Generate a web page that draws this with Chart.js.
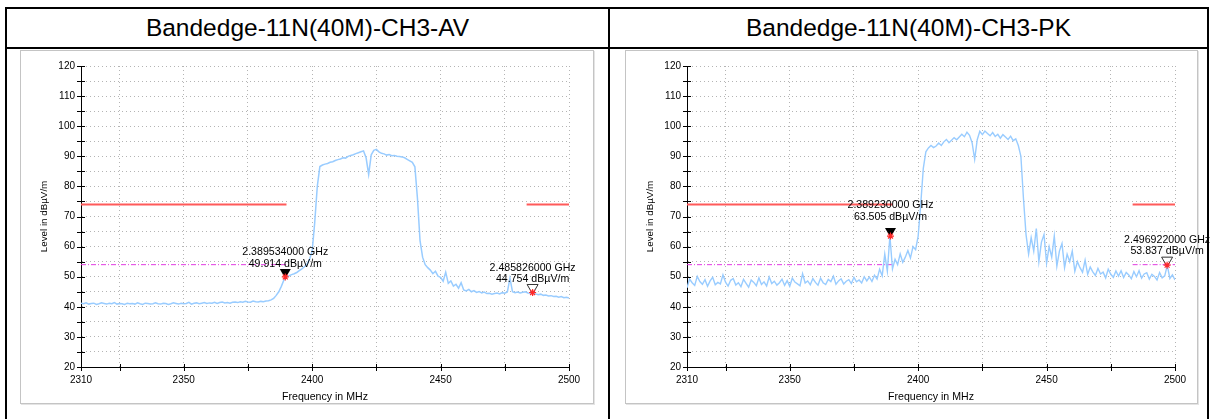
<!DOCTYPE html>
<html><head><meta charset="utf-8">
<script src="https://cdn.jsdelivr.net/npm/chart.js@4.4.1/dist/chart.umd.min.js"></script>
<style>
html,body{margin:0;padding:0;background:#fff;}
body{width:1214px;height:419px;position:relative;overflow:hidden;font-family:"Liberation Sans",Arial,sans-serif;}
.ln{position:absolute;background:#000;}
.title{position:absolute;top:9px;height:38px;line-height:38px;text-align:center;font-size:24.5px;color:#000;white-space:nowrap;}
.frame{position:absolute;top:50px;height:354px;border:1px solid #c4c4c4;box-sizing:border-box;box-shadow:1px 1px 0 #e4e4e4;}
canvas{position:absolute;}
</style></head><body>
<div class="ln" style="left:5px;top:7px;width:1204px;height:2px"></div>
<div class="ln" style="left:5px;top:47px;width:1204px;height:2px"></div>
<div class="ln" style="left:5px;top:7px;width:2px;height:412px"></div>
<div class="ln" style="left:608px;top:7px;width:2px;height:412px"></div>
<div class="ln" style="left:1207px;top:7px;width:2px;height:412px"></div>
<div class="title" id="t1" style="left:7px;width:601px"></div>
<div class="title" id="t2" style="left:610px;width:597px"></div>
<div class="frame" style="left:20px;width:574px"></div>
<div class="frame" style="left:625px;width:573px"></div>
<canvas id="c1" width="588" height="352" style="left:21px;top:51px;width:588px;height:352px"></canvas>
<canvas id="c2" width="588" height="352" style="left:627px;top:51px;width:588px;height:352px"></canvas>
<script>
// ---------- data ----------
const panelTitles = ['Bandedge-11N(40M)-CH3-AV', 'Bandedge-11N(40M)-CH3-PK'];
const freqStartMHz = 2310;
const freqStepMHz = 1;
const avLevels = [
41.2,41.0,41.3,40.9,41.1,41.2,40.8,41.0,41.3,41.1,
40.9,41.2,41.0,41.4,40.9,41.1,41.0,40.8,41.2,41.0,
41.1,40.9,41.3,41.0,40.8,41.2,41.1,40.9,41.0,41.3,
41.0,40.9,41.2,41.1,40.8,41.0,41.3,41.1,40.9,41.2,
41.0,41.1,41.5,40.9,41.2,41.3,41.0,41.2,41.4,41.1,
41.3,41.2,41.5,41.1,41.4,41.6,41.3,41.4,41.2,41.5,
41.6,41.4,41.7,41.5,41.8,41.6,41.5,41.9,41.7,41.6,
41.8,41.7,41.9,42.0,42.3,42.8,43.8,45.0,46.8,48.9,
49.9,50.3,50.7,51.0,51.4,52.0,52.6,53.3,54.2,55.8,
58.5,68.0,80.0,86.6,87.1,87.4,87.6,88.0,88.2,88.6,
88.9,89.1,89.5,89.4,90.0,90.3,90.5,90.9,91.2,91.5,
91.8,89.5,84.0,90.5,92.0,92.3,91.5,91.0,90.8,90.4,
90.6,90.2,90.3,90.0,89.9,89.8,89.5,89.0,88.5,88.0,
86.5,76.0,62.0,56.5,54.0,53.0,52.2,51.0,51.8,50.2,
49.8,48.5,51.5,47.8,48.6,46.9,47.5,46.2,48.0,45.6,
45.3,45.8,45.0,45.4,44.8,45.1,44.6,44.9,44.4,44.5,
44.2,44.4,44.6,44.3,44.7,44.5,44.9,49.5,45.0,44.7,
44.9,44.6,44.8,45.0,44.6,44.5,44.75,44.3,44.0,44.2,
43.8,43.9,43.6,43.7,43.4,43.5,43.2,43.4,43.0,43.2,
42.9];
const pkLevels = [
46.3,49.2,48.0,47.1,50.1,48.4,47.5,49.0,46.8,48.6,
49.8,47.3,48.1,47.6,50.6,48.2,46.9,48.8,49.4,47.2,
48.0,46.7,49.1,47.8,46.5,48.9,48.1,47.0,49.6,47.4,
48.3,46.9,49.9,47.7,48.5,47.2,48.0,49.2,47.1,48.7,
46.8,49.5,48.2,47.6,47.0,51.0,47.9,48.6,47.3,49.4,
48.1,47.2,49.5,48.0,47.4,49.1,48.4,50.2,47.5,48.6,
49.3,47.6,48.5,49.0,47.7,49.8,48.3,48.9,47.9,50.0,
48.6,49.9,48.4,50.5,49.2,52.5,50.3,57.5,51.8,63.5,
52.6,55.8,54.0,57.6,54.8,56.5,58.7,56.2,60.0,59.0,
63.5,74.0,86.0,91.5,92.8,93.6,92.9,93.4,94.4,93.6,
94.8,95.6,94.5,95.3,96.2,95.5,96.4,97.3,96.5,98.0,
97.0,94.5,89.0,95.5,98.3,97.2,98.4,97.6,96.8,97.9,
96.6,97.3,96.0,97.2,96.4,95.6,96.7,95.2,95.8,93.6,
90.0,76.0,64.0,57.5,63.0,58.5,66.0,55.0,61.5,64.0,
54.5,60.0,56.5,63.5,53.5,58.5,61.0,53.0,57.5,55.0,
58.5,51.8,55.0,53.0,51.5,55.5,50.8,53.2,51.6,50.4,
52.8,50.9,51.5,49.6,52.5,50.8,49.8,51.9,50.2,52.0,
49.7,51.4,50.6,49.3,51.7,50.0,52.0,49.5,50.9,51.3,
49.2,50.8,50.1,48.9,51.4,49.6,50.3,53.8,49.4,50.6,
48.9];
const xTickValues = [2310,2325,2350,2375,2400,2425,2450,2475,2500];
const xTickLabels = [2310,2350,2400,2450,2500];
const yTickLabels = [20,30,40,50,60,70,80,90,100,110,120];
const limitPeak = 74;
const limitAvg = 54;
const peakLimitBands = [[2310,2390],[2483.5,2500]];
const avgLimitBandsAV = [[2310,2390]];
const avgLimitBandsPK = [[2310,2390],[2483.5,2500]];
const markerFreqAV = [2389.534, 2485.826];
const markerLevelAV = [49.914, 44.754];
const markerFreqPK = [2389.230, 2496.922];
const markerLevelPK = [63.505, 53.837];

// ---------- helpers ----------
function tracePoints(levels){ return levels.map((v,i)=>({x:freqStartMHz+i*freqStepMHz, y:v})); }
function bandPoints(bands, level){
  const pts=[];
  bands.forEach((b,i)=>{ if(i) pts.push({x:b[0], y:null}); pts.push({x:b[0],y:level}); pts.push({x:b[1],y:level}); });
  return pts;
}
const FONT = '"Liberation Sans", Arial, sans-serif';

const crossTicks = {
  id:'crossTicks',
  afterDraw(chart){
    const {ctx, scales:{x,y}, chartArea:a} = chart;
    ctx.save(); ctx.strokeStyle='#000'; ctx.lineWidth=1; ctx.beginPath();
    x.ticks.forEach(t=>{const px=Math.round(x.getPixelForValue(t.value))+0.5; ctx.moveTo(px,a.bottom-3); ctx.lineTo(px,a.bottom+4);});
    y.ticks.forEach(t=>{const py=Math.round(y.getPixelForValue(t.value))+0.5; ctx.moveTo(a.left-4,py); ctx.lineTo(a.left+4,py);});
    ctx.stroke(); ctx.restore();
  }
};
const markerPlugin = {
  id:'markers',
  afterDatasetsDraw(chart, args, opts){
    const {ctx, scales:{x,y}} = chart;
    opts.freqs.forEach((f,i)=>{
      const lv = opts.levels[i];
      const px = x.getPixelForValue(f), py = y.getPixelForValue(lv);
      const lift = opts.lifts[i];
      ctx.save();
      ctx.font = '10.6px ' + FONT; ctx.fillStyle='#000'; ctx.textAlign='center'; ctx.textBaseline='middle';
      ctx.fillText((f/1000).toFixed(9)+' GHz', px, py - lift - 11.5);
      ctx.fillText(lv.toFixed(3)+' dB\u00b5V/m', px, py - lift);
      ctx.beginPath(); ctx.moveTo(px-5.5, py-8); ctx.lineTo(px+5.5, py-8); ctx.lineTo(px, py+1.5); ctx.closePath();
      if(i===0){ ctx.fillStyle='#000'; ctx.fill(); }
      else { ctx.strokeStyle='#333'; ctx.lineWidth=1; ctx.stroke(); }
      ctx.strokeStyle='#ff2a2a'; ctx.lineWidth=1.2; ctx.beginPath();
      const r=3.5;
      for(let k=0;k<4;k++){ const an=k*Math.PI/4; ctx.moveTo(px-r*Math.cos(an), py-r*Math.sin(an)); ctx.lineTo(px+r*Math.cos(an), py+r*Math.sin(an)); }
      ctx.stroke();
      ctx.restore();
    });
  }
};

function makeChart(id, levels, avgBands, mFreqs, mLevels, lifts, traceWidth){
  return new Chart(document.getElementById(id), {
    type:'line',
    data:{ datasets:[
      {data:tracePoints(levels), borderColor:'#99ccff', borderWidth:traceWidth, pointRadius:0, tension:0},
      {data:bandPoints(peakLimitBands, limitPeak), borderColor:'#ff5a5a', borderWidth:2, pointRadius:0, spanGaps:false},
      {data:bandPoints(avgBands, limitAvg), borderColor:'#e23ce2', borderWidth:1, borderDash:[5,2,1,2], pointRadius:0, spanGaps:false}
    ]},
    options:{
      responsive:false, animation:false, parsing:true,
      layout:{padding:{left:0, top:15, right:40, bottom:0}},
      plugins:{legend:{display:false}, tooltip:{enabled:false},
        markers:{freqs:mFreqs, levels:mLevels, lifts:lifts}},
      scales:{
        x:{type:'linear', min:2310, max:2500,
          afterBuildTicks(s){ s.ticks = xTickValues.map(v=>({value:v})); },
          afterFit(s){ s.height = 36; },
          ticks:{autoSkip:false, maxRotation:0, padding:7, color:'#000', font:{family:FONT, size:10},
            callback:(v)=> xTickLabels.includes(v) ? String(v) : ''},
          grid:{color:'#b4b4b4', lineWidth:1, drawTicks:false},
          border:{display:true, color:'#000', width:1, dash:[1,3]},
          title:{display:true, text:'Frequency in MHz', color:'#000', font:{family:FONT, size:10.6, lineHeight:1.2}, padding:{top:0,bottom:0}}
        },
        y:{type:'linear', min:20, max:120,
          ticks:{stepSize:5, padding:6, color:'#000', font:{family:FONT, size:10},
            callback:(v)=> yTickLabels.includes(v) ? String(v) : ''},
          afterFit(s){ s.width = 60; },
          grid:{color:'#b4b4b4', lineWidth:1, drawTicks:false},
          border:{display:true, color:'#000', width:1, dash:[1,3]},
          title:{display:true, text:'Level in dB\u00b5V/m', color:'#000', font:{family:FONT, size:9.8, lineHeight:1.2}, padding:{top:17,bottom:0}}
        }
      }
    },
    plugins:[crossTicks, markerPlugin]
  });
}
document.getElementById('t1').textContent = panelTitles[0];
document.getElementById('t2').textContent = panelTitles[1];
makeChart('c1', avLevels, avgLimitBandsAV, markerFreqAV, markerLevelAV, [13,13], 1.5);
makeChart('c2', pkLevels, avgLimitBandsPK, markerFreqPK, markerLevelPK, [19,14], 1.4);
</script>
</body></html>
